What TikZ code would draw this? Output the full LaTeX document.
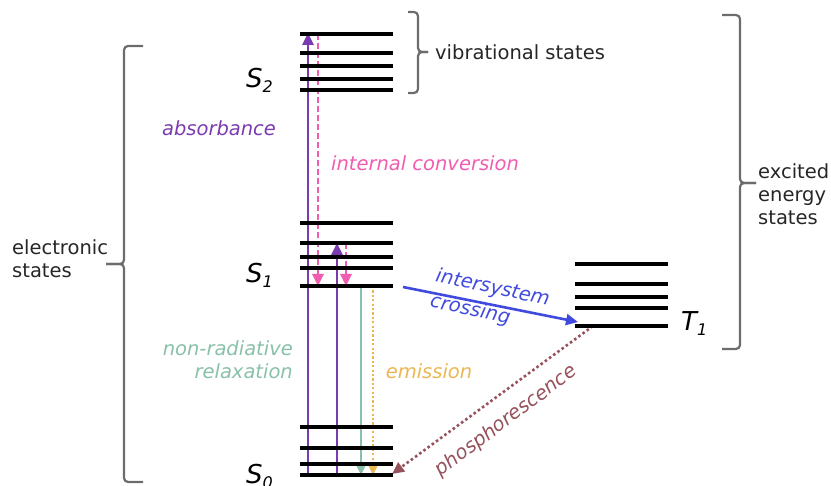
\documentclass[tikz,border=0pt]{standalone}
\usepackage{fontspec}
\setmainfont{DejaVu Sans}
\usetikzlibrary{positioning, arrows.meta}
\definecolor{absorb}{RGB}{122,58,176}
\definecolor{intconv}{RGB}{240,92,176}
\definecolor{nonrad}{RGB}{136,192,168}
\definecolor{emit}{RGB}{236,182,82}
\definecolor{isc}{RGB}{64,74,222}
\definecolor{phos}{RGB}{150,82,92}
\definecolor{bracegray}{RGB}{108,108,108}
\newcommand\lvlname[2]{#1\raisebox{-5pt}{\fontsize{16}{16}\selectfont #2}}
\tikzset{
    level/.style={draw=black, line width=3.2pt},
    trans/.style={
        -{Triangle[length=12pt, width=11pt]},
        line width=2.6pt
    },
    lbl/.style={
        font=\fontsize{19.5}{23}\selectfont\itshape,
        inner sep=0pt, align=center
    },
    plain/.style={
        font=\fontsize{19.5}{23}\selectfont, text=black!85,
        inner sep=0pt, align=left
    },
    statelbl/.style={
        font=\fontsize{26}{26}\selectfont\itshape,
        inner sep=0pt, anchor=base west
    },
    brace/.style={draw=bracegray, line width=2.2pt, rounded corners=4pt},
}

\begin{document}
\begin{tikzpicture}[x=1pt, y=-1pt]
\useasboundingbox (0,0) rectangle (831,486);

% ---- end points of the transitions ----
\coordinate (abs1-s) at (308,475);
\coordinate (abs1-e) at (308,33);
\coordinate (ic1-s)  at (318,34);
\coordinate (ic1-e)  at (318,286);
\coordinate (abs2-s) at (337,475);
\coordinate (abs2-e) at (337,243);
\coordinate (ic2-s)  at (346,243);
\coordinate (ic2-e)  at (346,286);
\coordinate (nr-s)   at (361,286);
\coordinate (nr-e)   at (361,475);
\coordinate (em-s)   at (373,286);
\coordinate (em-e)   at (373,475);
\coordinate (isc-s)  at (403,287);
\coordinate (isc-e)  at (578,322);
\coordinate (ph-s)   at (593,326);
\coordinate (ph-e)   at (392,474);

% ---- transitions ----
\draw[trans, draw=absorb, fill=absorb] (abs1-s) -- (abs1-e);
\draw[trans, draw=absorb, fill=absorb] (abs2-s) -- (abs2-e);
\draw[trans, draw=intconv, dash pattern=on 6pt off 3pt] (ic1-s) -- (ic1-e);
\draw[trans, draw=intconv, dash pattern=on 6pt off 3pt] (ic2-s) -- (ic2-e);
\draw[trans, draw=nonrad] (nr-s) -- (nr-e);
\draw[trans, draw=emit, dash pattern=on 2.2pt off 2.2pt] (em-s) -- (em-e);
\draw[trans, draw=isc] (isc-s) -- (isc-e);
\draw[trans, draw=phos, dash pattern=on 2.6pt off 2.6pt] (ph-s) -- (ph-e);

% ---- vibrational levels ----
\foreach \y in {34,53,66,79,90}   \draw[level] (300,\y) -- (393,\y);
\foreach \y in {223,243,257,268,286} \draw[level] (300,\y) -- (393,\y);
\foreach \y in {427,448,464,475}  \draw[level] (300,\y) -- (393,\y);
\foreach \y in {264,284,297,308,326} \draw[level] (575,\y) -- (668,\y);

% ---- state names ----
\node[statelbl] (s2-lbl) at (246,88)  {\lvlname{S}{2}};
\node[statelbl] (s1-lbl) at (246,283) {\lvlname{S}{1}};
\node[statelbl] (s0-lbl) at (246,484) {\lvlname{S}{0}};
\node[statelbl] (t1-lbl) at (681,331) {\lvlname{T}{1}};

% ---- transition labels ----
\node[lbl, text=absorb] (abs-lbl) at (219,128) {absorbance};
\node[lbl, text=intconv] (ic-lbl) at (425,163) {internal conversion};
\node[lbl, text=nonrad, align=right, anchor=east] (nr-lbl) at (293,360)
    {non-radiative\\relaxation};
\node[lbl, text=emit] (em-lbl) at (429,371) {emission};
\node[lbl, text=isc, align=left, rotate=-12,
      font=\fontsize{19.5}{26}\selectfont\itshape] (isc-lbl) at (490,301)
    {intersystem\\crossing};
\node[lbl, text=phos, rotate=37] (ph-lbl) at (506,421) {phosphorescence};

% ---- braces ----
\coordinate (vib-tip) at (428,52);
\draw[brace] (408,12) -- (418,12) -- (418,52) -- (vib-tip);
\draw[brace] (vib-tip) -- (418,52) -- (418,93) -- (408,93);
\node[plain, right=7pt of vib-tip, anchor=west] (vib-lbl) {vibrational states};

\coordinate (elec-tip) at (106,264);
\draw[brace] (143,46) -- (124,46) -- (124,264) -- (elec-tip);
\draw[brace] (elec-tip) -- (124,264) -- (124,482) -- (143,482);
\node[plain, anchor=west] (elec-lbl) at (12,259) {electronic\\states};

\coordinate (exc-tip) at (756,183);
\draw[brace] (722,15) -- (740,15) -- (740,183) -- (exc-tip);
\draw[brace] (exc-tip) -- (740,183) -- (740,349) -- (722,349);
\node[plain, anchor=west] (exc-lbl) at (758,194) {excited\\energy\\states};

\end{tikzpicture}
\end{document}
